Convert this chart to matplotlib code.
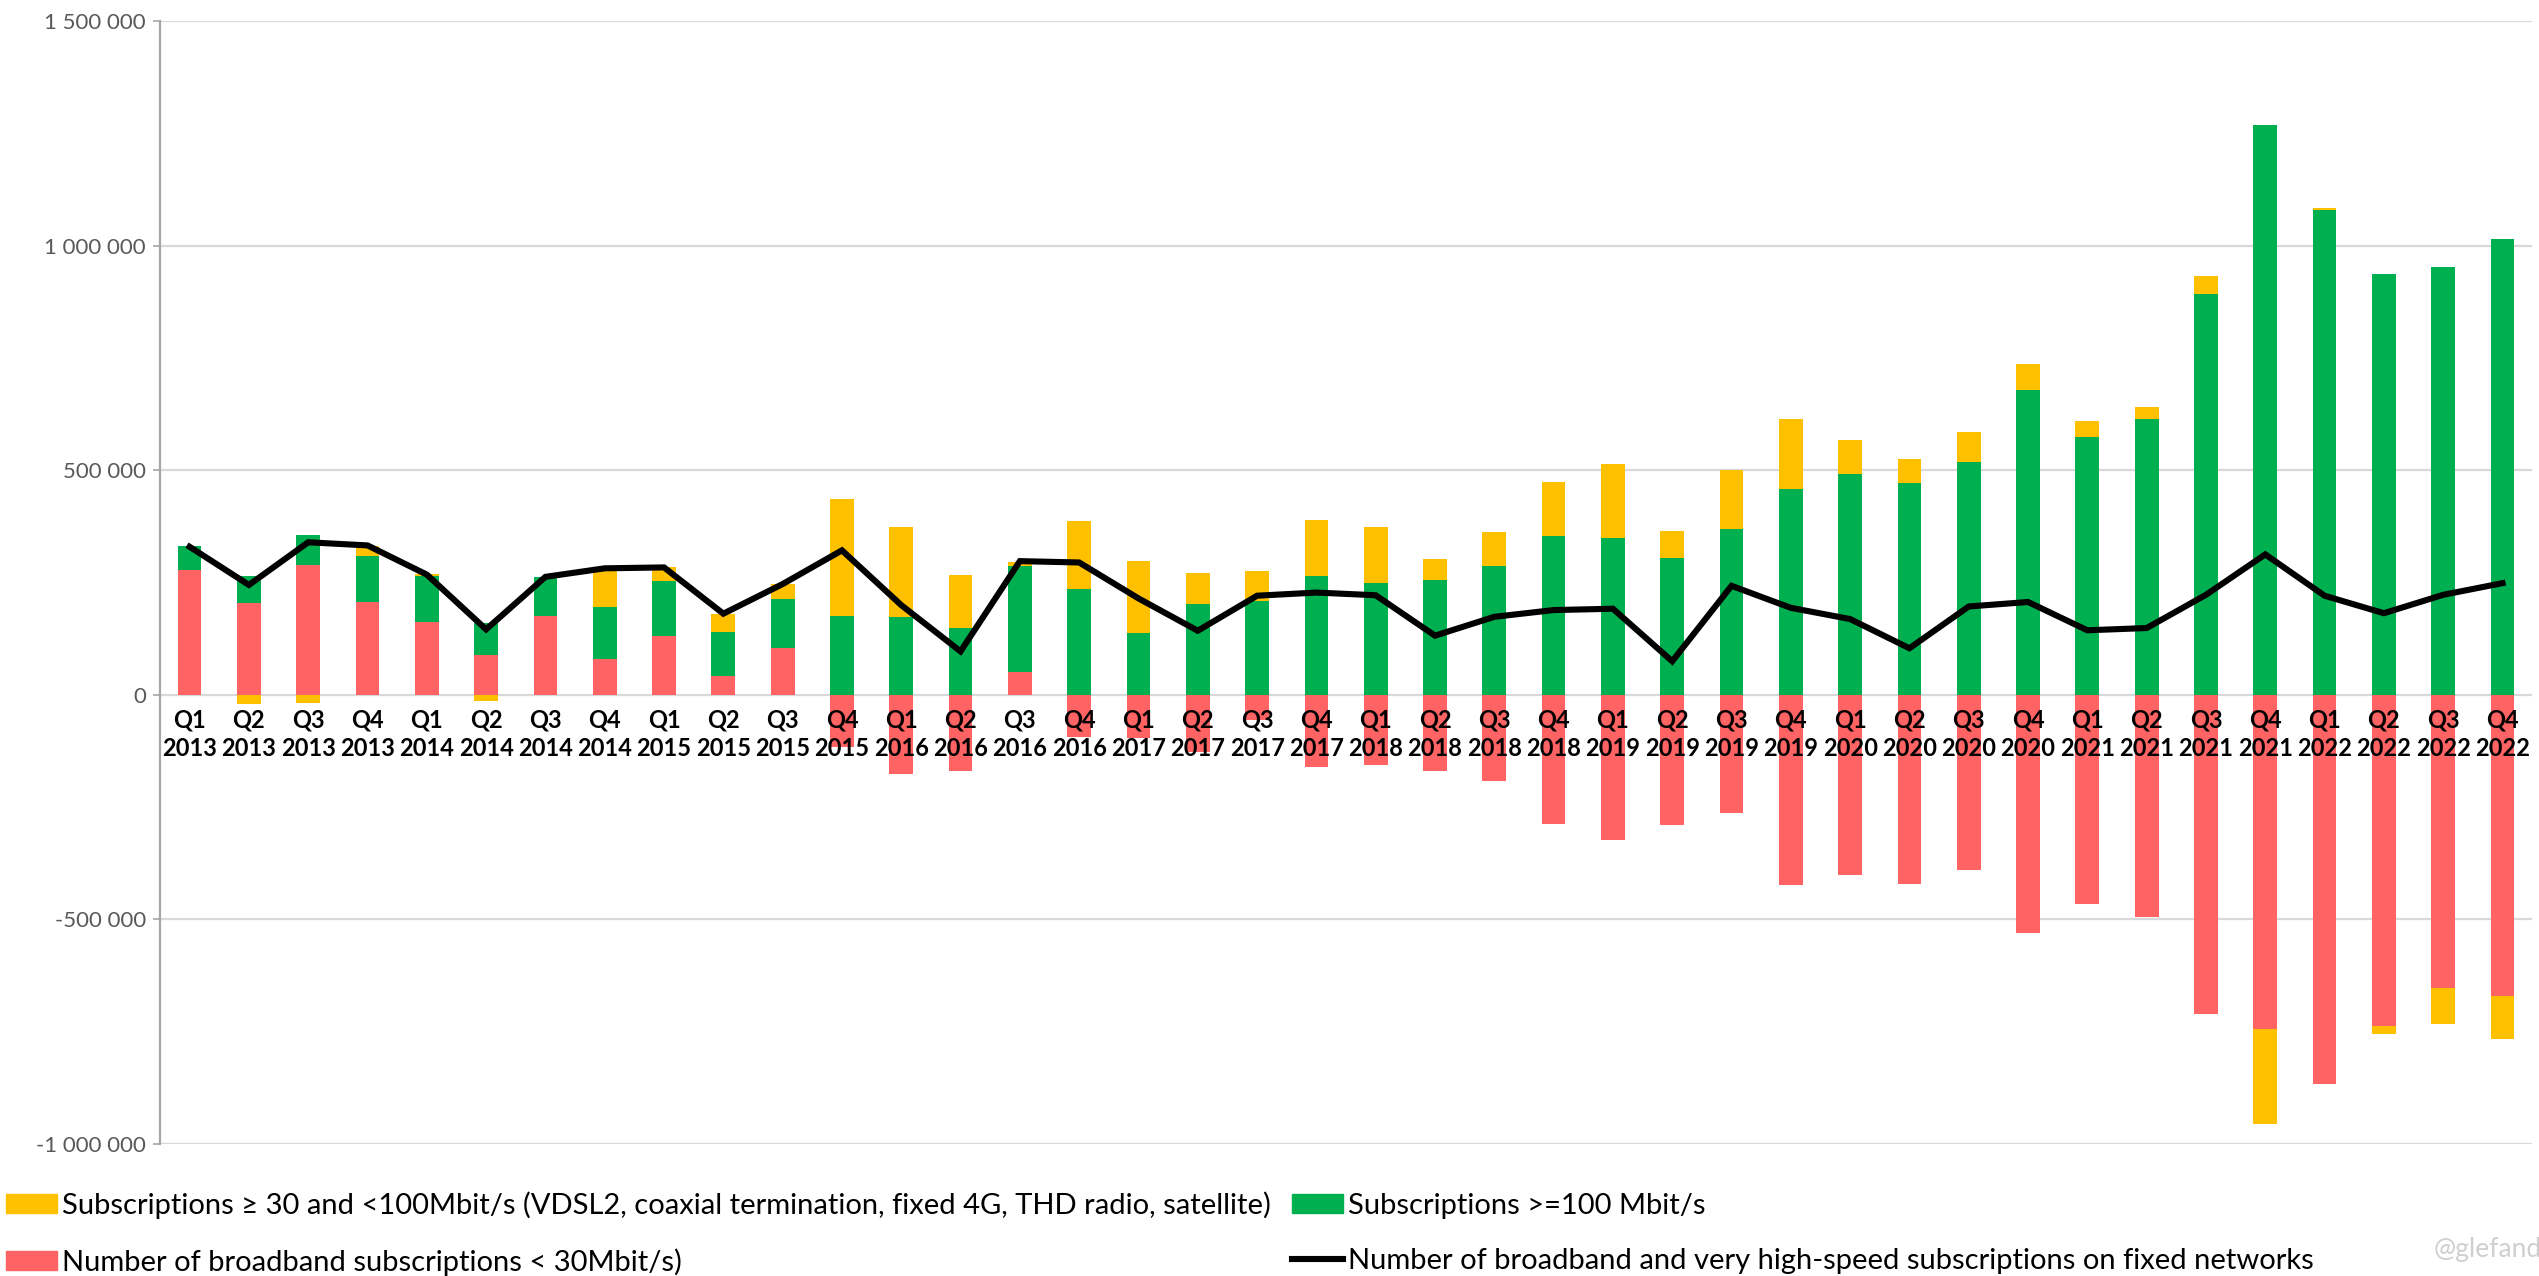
import numpy as np
import matplotlib
matplotlib.use("Agg")
import matplotlib.pyplot as plt
from matplotlib.patches import Patch
from matplotlib.lines import Line2D
from matplotlib.ticker import FuncFormatter

plt.rcParams['font.family'] = ['Lato', 'DejaVu Sans']

quarters = ["Q1", "Q2", "Q3", "Q4"] * 10
years = [str(y) for y in range(2013, 2023) for _ in range(4)]

# net additions per quarter (thousands)
below_30 = [279, 204, 290, 208, 163, 88, 175, 80, 131, 42, 105, -115,
            -175, -169, 50, -93, -97, -126, -56, -161, -155, -169, -191, -287,
            -324, -290, -262, -424, -401, -421, -390, -531, -466, -494, -710, -744,
            -866, -738, -652, -670]
above_100 = [52, 60, 66, 102, 103, 72, 87, 116, 122, 98, 109, 176,
             174, 150, 237, 237, 137, 202, 210, 266, 249, 255, 288, 355,
             350, 305, 370, 459, 492, 473, 518, 679, 574, 614, 892, 1269,
             1081, 937, 953, 1015]
from_30_to_100 = [0, -20, -17, 22, 3, -13, 0, 83, 31, 40, 32, 261,
                  201, 117, 10, 150, 161, 69, 66, 124, 126, 47, 75, 120,
                  164, 60, 131, 156, 75, 53, 67, 58, 35, 28, 41, -212,
                  3, -18, -81, -96]
total = [330, 245, 340, 333, 268, 146, 263, 282, 284, 181, 247, 322,
         200, 97, 298, 295, 215, 143, 221, 228, 222, 132, 174, 189,
         192, 75, 243, 194, 169, 104, 197, 207, 144, 149, 223, 313,
         221, 182, 223, 249]

red = "#FF6363"
green = "#00B050"
yellow = "#FFC000"

fig = plt.figure(figsize=(25.39, 12.76), dpi=100)
ax = fig.add_axes([0.063, 0.1035, 0.9343, 0.8797])

x = np.arange(len(quarters))
pos = np.zeros(len(x))
neg = np.zeros(len(x))
for vals, col in [(below_30, red), (above_100, green), (from_30_to_100, yellow)]:
    v = np.array(vals) * 1000.0
    bottom = np.where(v >= 0, pos, neg)
    ax.bar(x, v, 0.4, bottom=bottom, color=col, zorder=2)
    pos = pos + np.where(v >= 0, v, 0)
    neg = neg + np.where(v < 0, v, 0)

ax.plot(x, np.array(total) * 1000.0, color="black", lw=4.4, zorder=3,
        solid_joinstyle="miter")

ax.set_xlim(-0.5, len(x) - 0.5)
ax.set_ylim(-1000000, 1500000)
ax.set_yticks(np.arange(-1000000, 1500001, 500000))
ax.yaxis.set_major_formatter(FuncFormatter(lambda v, p: f"{int(v):,}".replace(",", " ")))
ax.grid(axis="y", color="#d9d9d9", lw=1.6, zorder=0)
ax.set_axisbelow(True)

for s in ["top", "right", "bottom"]:
    ax.spines[s].set_visible(False)
ax.spines["left"].set_color("#a6a6a6")
ax.spines["left"].set_linewidth(1.6)

# category labels sit just under the zero line, on top of the bars
ax.set_xticks(x)
ax.set_xticklabels([])
ax.tick_params(axis="x", length=0)
for i in x:
    ax.annotate(quarters[i] + "\n" + years[i], xy=(i, 0), xytext=(0, -10),
                textcoords="offset points", ha="center", va="top",
                fontsize=17, fontweight="bold", linespacing=1.25, zorder=6)
ax.tick_params(axis="y", length=5, width=1.2, color="#a6a6a6", labelsize=16,
               labelcolor="#595959", pad=5)

handles = [Patch(color=yellow), Patch(color=red), Patch(color=green),
           Line2D([], [], color="black", lw=4.4)]
labels = ["Subscriptions \u2265 30 and <100Mbit/s (VDSL2, coaxial termination, fixed 4G, THD radio, satellite)",
          "Number of broadband subscriptions < 30Mbit/s)",
          "Subscriptions >=100 Mbit/s",
          "Number of broadband and very high-speed subscriptions on fixed networks"]
fig.legend(handles, labels, loc="upper left", bbox_to_anchor=(0.0, 0.071),
           ncol=2, frameon=False, fontsize=21, handlelength=1.75, handleheight=0.62,
           handletextpad=0.17, columnspacing=0.72, labelspacing=1.0, borderaxespad=0,
           borderpad=0.2)

fig.text(0.9585, 0.0145, "@glefand", fontsize=19, color="#cfcfcf", ha="left", va="baseline")

fig.savefig("out.png", dpi=100)
